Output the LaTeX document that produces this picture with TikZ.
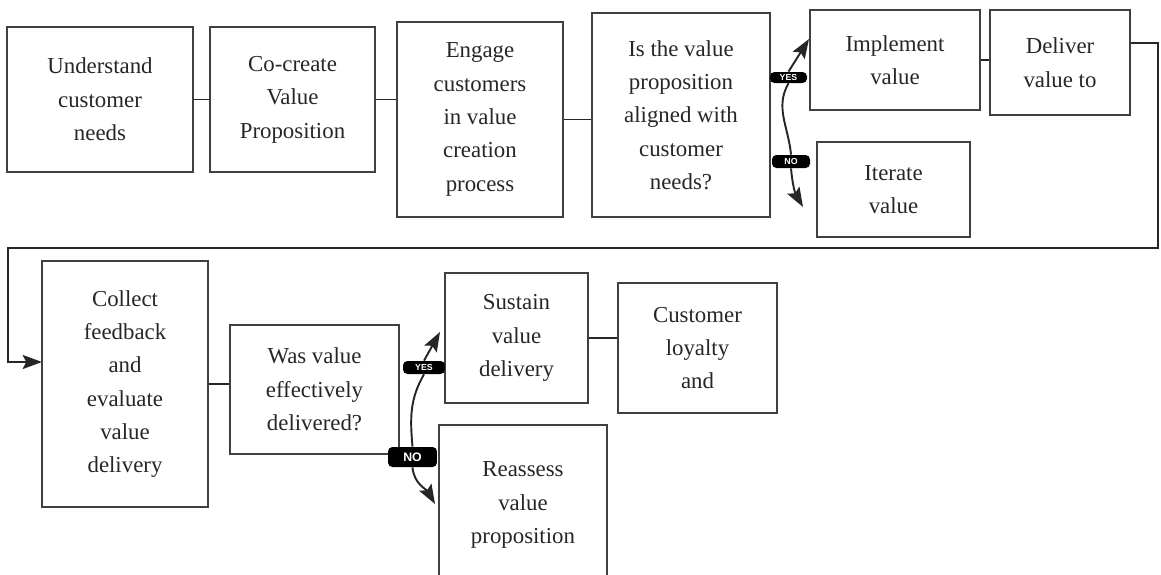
\documentclass[tikz,border=0pt]{standalone}
\usepackage{fontspec}
\setmainfont{Liberation Serif}
\setsansfont{Liberation Sans}
\usetikzlibrary{arrows.meta}

\tikzset{
  blk/.style={draw=black!75, line width=1.1pt, align=center, inner sep=2pt,
    text=black!85, font=\fontsize{13}{19}\selectfont},
  tag/.style={fill=black, text=white, rounded corners=2.5pt, inner sep=0pt,
    font=\sffamily\bfseries\fontsize{5}{5}\selectfont},
  link/.style={draw=black!85, line width=1.1pt}
}

\begin{document}
\begin{tikzpicture}[x=0.02cm, y=-0.02cm, >={Stealth[length=11pt,width=8pt,inset=2pt]}]
    \useasboundingbox (0,0) rectangle (1161,575);
    \clip (0,0) rectangle (1161,575);

    % === Riga 1 ===
    \node[blk, minimum width=3.72cm, minimum height=2.9cm] (understand) at (100,99.5)
        {Understand\\customer\\needs};
    \node[blk, minimum width=3.3cm, minimum height=2.9cm] (cocreate) at (292.5,99.5)
        {Co-create\\Value\\Proposition};
    \node[blk, minimum width=3.32cm, minimum height=3.9cm] (engage) at (480,119.5)
        {Engage\\customers\\in value\\creation\\process};
    \node[blk, minimum width=3.56cm, minimum height=4.08cm] (askfit) at (681,115)
        {Is the value\\proposition\\aligned with\\customer\\needs?};
    \node[blk, minimum width=3.4cm, minimum height=2.0cm] (implement) at (895,60)
        {Implement\\value};
    \node[blk, minimum width=2.8cm, minimum height=2.1cm] (deliver) at (1060,62.5)
        {Deliver\\value to};
    \node[blk, minimum width=3.06cm, minimum height=1.9cm] (iterate) at (893.5,189.5)
        {Iterate\\value};

    % Collegamenti riga 1
    \draw[link] (understand.east) -- (cocreate.west);
    \draw[link] (cocreate.east) -- (cocreate.east -| engage.west);
    \draw[link] (engage.east) -- (engage.east -| askfit.west);
    \draw[link] (implement.east) -- (implement.east -| deliver.west);

    % Scelta YES / NO in alto
    \node[tag, minimum width=0.74cm, minimum height=0.22cm] (yesA) at (788.5,77.5) {YES};
    \node[tag, minimum width=0.76cm, minimum height=0.26cm] (noA) at (791,161.5) {NO};
    \coordinate (yesTipA) at (809,39);
    \coordinate (noTipA) at (803,207);
    \draw[link, ->] (yesA.north) -- (yesTipA);
    \draw[link] (yesA.south) to[out=-120, in=95] (noA.north);
    \draw[link, ->] (noA.south) to[out=-85, in=120] (noTipA);

    % Ritorno verso la riga 2
    \coordinate (turnA) at (1158,43);
    \coordinate (turnB) at (1158,248);
    \coordinate (turnC) at (8,248);
    \coordinate (entry) at (8,362);
    \draw[link, ->] (deliver.east |- turnA) -- (turnA) -- (turnB) -- (turnC)
        -- (entry) -- (entry -| 42,0);

    % === Riga 2 ===
    \node[blk, minimum width=3.32cm, minimum height=4.92cm] (collect) at (125,384)
        {Collect\\feedback\\and\\evaluate\\value\\delivery};
    \node[blk, minimum width=3.38cm, minimum height=2.58cm] (askdone) at (314.5,389.5)
        {Was value\\effectively\\delivered?};
    \node[blk, minimum width=2.86cm, minimum height=2.6cm] (sustain) at (516.5,338)
        {Sustain\\value\\delivery};
    \node[blk, minimum width=3.18cm, minimum height=2.6cm] (loyalty) at (697.5,348)
        {Customer\\loyalty\\and};
    \node[blk, minimum width=3.36cm, minimum height=3.2cm] (reassess) at (523,505)
        {Reassess\\value\\proposition};

    % Collegamenti riga 2
    \draw[link] (collect.east) -- (collect.east -| askdone.west);
    \draw[link] (sustain.east) -- (sustain.east -| loyalty.west);

    % Scelta YES / NO in basso
    \node[tag, minimum width=0.84cm, minimum height=0.26cm] (yesB) at (424,367.5) {YES};
    \node[tag, minimum width=0.98cm, minimum height=0.4cm,
        font=\sffamily\bfseries\fontsize{7}{7}\selectfont] (noB) at (412.5,457) {NO};
    \coordinate (yesTipB) at (440,332);
    \coordinate (noTipB) at (435,504);
    \draw[link, ->] (yesB.north) -- (yesTipB);
    \draw[link] (yesB.south) to[out=-120, in=95] (noB.north);
    \draw[link, ->] (noB.south) to[out=-85, in=120] (noTipB);
\end{tikzpicture}
\end{document}
